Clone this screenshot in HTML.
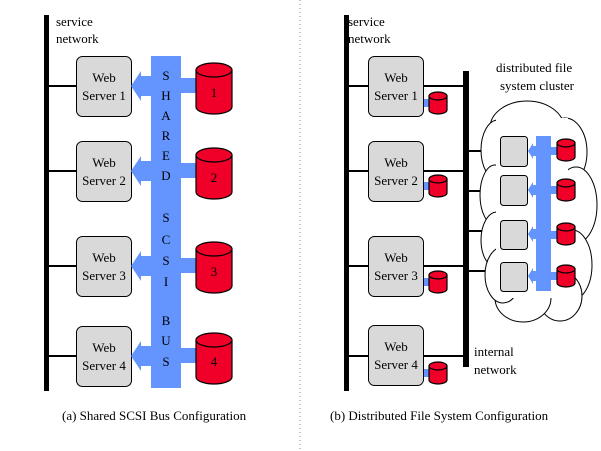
<!DOCTYPE html>
<html><head><style>body{margin:0;background:#fff}svg{display:block}text{font-family:"Liberation Serif",serif;font-size:13px;fill:#000}</style></head><body>
<svg width="601" height="451" viewBox="0 0 601 451" xmlns="http://www.w3.org/2000/svg">
<defs>
<g id="bigdisk"><path d="M0,7 L0,44 A18,7 0 0 0 36,44 L36,7 Z" fill="#f00028" stroke="#000" stroke-width="1.2"/><ellipse cx="18" cy="7" rx="18" ry="7" fill="#f00028" stroke="#000" stroke-width="1.2"/></g>
<g id="smdisk"><path d="M0,4 L0,18 A9,4 0 0 0 18,18 L18,4 Z" fill="#f00028" stroke="#000" stroke-width="1.2"/><ellipse cx="9" cy="4" rx="9" ry="4" fill="#f00028" stroke="#000" stroke-width="1.2"/></g>
</defs>
<line x1="300" y1="0" x2="300" y2="451" stroke="#888" stroke-dasharray="1,3"/>
<rect x="44" y="15" width="5" height="376" fill="#000"/>
<text x="56" y="26">service</text><text x="56" y="43">network</text>
<g stroke="#000" stroke-width="2"><line x1="48" y1="86" x2="76" y2="86"/><line x1="48" y1="171" x2="76" y2="171"/><line x1="48" y1="266" x2="76" y2="266"/><line x1="48" y1="356" x2="76" y2="356"/></g>
<g fill="#d9d9d9" stroke="#000"><rect x="76.5" y="56.5" width="55" height="60" rx="6"/><rect x="76.5" y="141.5" width="55" height="60" rx="6"/><rect x="76.5" y="236.5" width="55" height="60" rx="6"/><rect x="76.5" y="326.5" width="55" height="60" rx="6"/></g>
<g text-anchor="middle"><text x="104" y="82">Web</text><text x="104" y="100">Server 1</text><text x="104" y="167">Web</text><text x="104" y="185">Server 2</text><text x="104" y="262">Web</text><text x="104" y="280">Server 3</text><text x="104" y="352">Web</text><text x="104" y="370">Server 4</text></g>
<g fill="#6495ff">
<rect x="151" y="56" width="30" height="332"/>
<path d="M151,76 L141,76 L141,71 L131,86 L141,101 L141,96 L151,96Z"/>
<path d="M151,161 L141,161 L141,156 L131,171 L141,186 L141,181 L151,181Z"/>
<path d="M151,256 L141,256 L141,251 L131,266 L141,281 L141,276 L151,276Z"/>
<path d="M151,346 L141,346 L141,341 L131,356 L141,371 L141,366 L151,366Z"/>
<rect x="181" y="78" width="16" height="15"/><rect x="181" y="163" width="16" height="15"/><rect x="181" y="258" width="16" height="15"/><rect x="181" y="348" width="16" height="15"/>
</g>
<g text-anchor="middle"><text x="166" y="80">S</text><text x="166" y="100">H</text><text x="166" y="120">A</text><text x="166" y="140">R</text><text x="166" y="160">E</text><text x="166" y="180">D</text>
<text x="166" y="222">S</text><text x="166" y="244">C</text><text x="166" y="265">S</text><text x="166" y="286">I</text>
<text x="166" y="325">B</text><text x="166" y="345">U</text><text x="166" y="366">S</text></g>
<use href="#bigdisk" x="196" y="63"/><use href="#bigdisk" x="196" y="148"/><use href="#bigdisk" x="196" y="242"/><use href="#bigdisk" x="196" y="333"/>
<g text-anchor="middle"><text x="214" y="97">1</text><text x="214" y="182">2</text><text x="214" y="276">3</text><text x="214" y="366">4</text></g>
<text x="62" y="420">(a) Shared SCSI Bus Configuration</text>
<rect x="344" y="15" width="5" height="376" fill="#000"/>
<text x="348" y="26">service</text><text x="348" y="43">network</text>
<rect x="463" y="71" width="6" height="296" fill="#000"/>
<g stroke="#000" stroke-width="2"><line x1="348" y1="86" x2="464" y2="86"/><line x1="348" y1="171" x2="464" y2="171"/><line x1="348" y1="266" x2="464" y2="266"/><line x1="348" y1="356" x2="464" y2="356"/>
<line x1="468" y1="151" x2="482" y2="151"/><line x1="468" y1="191" x2="482" y2="191"/><line x1="468" y1="231" x2="484" y2="231"/><line x1="468" y1="271" x2="492" y2="271"/></g>
<g fill="#d9d9d9" stroke="#000"><rect x="368.5" y="56.5" width="55" height="60" rx="6"/><rect x="368.5" y="141.5" width="55" height="60" rx="6"/><rect x="368.5" y="236.5" width="55" height="60" rx="6"/><rect x="368.5" y="325.5" width="55" height="60" rx="6"/></g>
<g text-anchor="middle"><text x="396" y="82">Web</text><text x="396" y="100">Server 1</text><text x="396" y="167">Web</text><text x="396" y="185">Server 2</text><text x="396" y="262">Web</text><text x="396" y="280">Server 3</text><text x="396" y="351">Web</text><text x="396" y="369">Server 4</text></g>
<g fill="#6495ff"><rect x="424" y="99" width="6" height="8"/><rect x="424" y="182" width="6" height="8"/><rect x="424" y="278" width="6" height="8"/><rect x="424" y="369" width="6" height="8"/></g>
<use href="#smdisk" x="429" y="92"/><use href="#smdisk" x="429" y="175"/><use href="#smdisk" x="429" y="271"/><use href="#smdisk" x="429" y="362"/>
<text x="496" y="72">distributed file</text><text x="500" y="90">system cluster</text>
<text x="474" y="356">internal</text><text x="474" y="374">network</text>
<g fill="#fff" stroke="#000" stroke-width="1">
<ellipse cx="527" cy="128" rx="37" ry="27"/>
<ellipse cx="565" cy="152" rx="22" ry="34"/>
<ellipse cx="576" cy="205" rx="21" ry="38"/>
<ellipse cx="572" cy="265" rx="20" ry="35"/>
<ellipse cx="560" cy="296" rx="22" ry="25"/>
<ellipse cx="523" cy="298" rx="28" ry="24"/>
<ellipse cx="498" cy="150" rx="17" ry="30"/>
<ellipse cx="495" cy="195" rx="15" ry="30"/>
<ellipse cx="497" cy="240" rx="16" ry="28"/>
<ellipse cx="503" cy="275" rx="18" ry="28"/>
</g>
<rect x="496" y="118" width="72" height="180" fill="#fff"/>
<g fill="#d9d9d9" stroke="#000"><rect x="500.5" y="136.5" width="27" height="30" rx="3"/><rect x="500.5" y="175.5" width="27" height="30" rx="3"/><rect x="500.5" y="220.5" width="27" height="29" rx="3"/><rect x="500.5" y="262.5" width="27" height="29" rx="3"/></g>
<g fill="#6495ff"><rect x="536" y="136" width="15" height="155"/>
<path d="M536,146 L533,146 L533,143 L528,151 L533,159 L533,156 L536,156Z"/>
<path d="M536,185 L533,185 L533,182 L528,190 L533,198 L533,195 L536,195Z"/>
<path d="M536,229 L533,229 L533,226 L528,234 L533,242 L533,239 L536,239Z"/>
<path d="M536,271 L533,271 L533,268 L528,276 L533,284 L533,281 L536,281Z"/>
<rect x="551" y="147" width="7" height="8"/><rect x="551" y="186" width="7" height="8"/><rect x="551" y="231" width="7" height="8"/><rect x="551" y="272" width="7" height="8"/></g>
<use href="#smdisk" x="557" y="139"/><use href="#smdisk" x="557" y="179"/><use href="#smdisk" x="557" y="223"/><use href="#smdisk" x="557" y="265"/>
<text x="330" y="420">(b) Distributed File System Configuration</text>
</svg>
</body></html>
